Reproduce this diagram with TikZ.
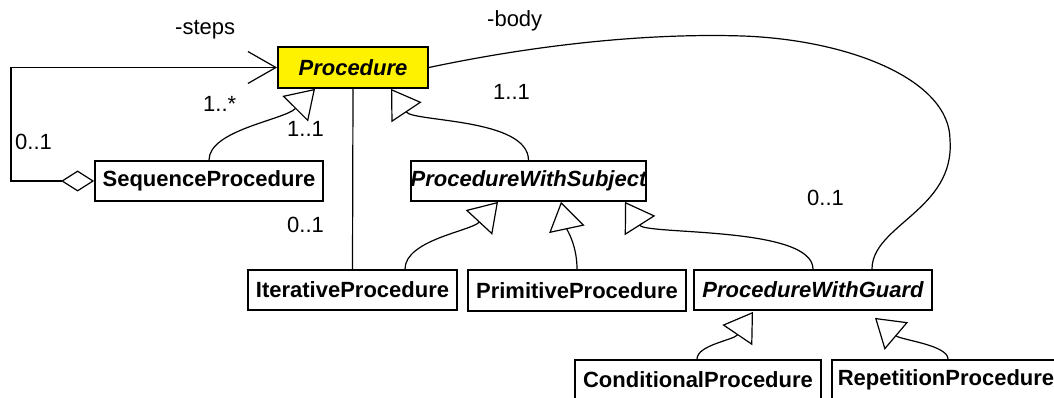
\documentclass[tikz,border=0pt]{standalone}
\usepackage{fontspec}
\setmainfont{Liberation Sans}
\usetikzlibrary{arrows.meta,calc}

\begin{document}
\begin{tikzpicture}[x=1pt,y=-1pt,
  classbox/.style={draw, line width=1.8pt, inner sep=0pt, minimum height=40pt,
    font=\fontsize{22}{26}\selectfont\bfseries},
  abstract/.style={classbox, font=\fontsize{22}{26}\selectfont\bfseries\itshape},
  wire/.style={line width=1.2pt},
  isa/.style={wire, -{Triangle[open, length=28pt, width=36pt]}},
  mult/.style={font=\fontsize{22}{26}\selectfont, inner sep=0pt, anchor=base west}]
\useasboundingbox (0,0) rectangle (1054,398);
\clip (0,0) rectangle (1054,398);

% classes
\node[abstract, fill=yellow, minimum width=150pt, minimum height=41pt] (proc) at (353,67.5) {Procedure};
\node[classbox, minimum width=228pt] (seq)  at (209,181)   {SequenceProcedure};
\node[abstract, minimum width=201pt] (pws)  at (528.5,181) {ProcedureWithSubject};
\node[classbox, minimum width=209pt] (iter) at (352.5,290) {IterativeProcedure};
\node[classbox, minimum width=218pt, minimum height=41pt] (prim) at (577,290.5) {PrimitiveProcedure};
\node[abstract, minimum width=238pt] (pwg)  at (813,290)   {ProcedureWithGuard};
\node[classbox, minimum width=246pt] (cond) at (698,380)   {ConditionalProcedure};
\node[classbox, minimum width=228pt] (rep)  at (946,380)   {RepetitionProcedure};

% points where the generalization triangles touch their parents
\coordinate (gSeq)  at ($(proc.south)+(-38,0)$);
\coordinate (gPws)  at ($(proc.south)+(38,0)$);
\coordinate (gIter) at ($(pws.south)+(-30.5,0)$);
\coordinate (gPrim) at ($(pws.south)+(32.5,0)$);
\coordinate (gPwg)  at ($(pws.south)+(96.5,0)$);
\coordinate (gCond) at ($(pwg.south)+(-60,1)$);
\coordinate (gRep)  at ($(pwg.south)+(62,7)$);
\coordinate (loopx) at (11,120);

% generalizations
\draw[isa] (seq.north)  .. controls (209,130) and (284,120) .. (gSeq);
\draw[isa] (pws.north)  .. controls (528,118) and (413,122) .. (gPws);
\draw[isa] ($(iter.north)+(52.5,0)$) .. controls (405,240) and (471,231) .. (gIter);
\draw[isa] (prim.north) .. controls (577,245) and (567,230) .. (gPrim);
\draw[isa] (pwg.north)  .. controls (813,226) and (646,235) .. (gPwg);
\draw[isa] ($(cond.north)+(-1,0)$) .. controls (697,345) and (734,340) .. (gCond);
\draw[isa] ($(rep.north)+(2,0)$)  .. controls (948,345) and (901,340) .. (gRep);

% associations
\draw[wire, {Diamond[open, length=33pt, width=21pt]}-{Straight Barb[length=28pt, width=32pt]}]
  (seq.west) -| (loopx) |- (proc.west);
\draw[wire] (proc.south) -- (iter.north);
\draw[wire] (proc.east) .. controls (540,44) and (650,33) .. (743,36)
  .. controls (850,40) and (950,80) .. (950,140)
  .. controls (955,210) and (872,225) .. ($(pwg.north)+(59,0)$);

% role names and multiplicities
\node[mult] (lsteps) at (175,35)  {-steps};
\node[mult] (lbody)  at (487,27)  {-body};
\node[mult] (lm1)    at (203,112) {1..*};
\node[mult] (lm2)    at (287,137) {1..1};
\node[mult] (lm3)    at (15,150)  {0..1};
\node[mult] (lm4)    at (493,100) {1..1};
\node[mult] (lm5)    at (287,233) {0..1};
\node[mult] (lm6)    at (807,205) {0..1};
\end{tikzpicture}
\end{document}
